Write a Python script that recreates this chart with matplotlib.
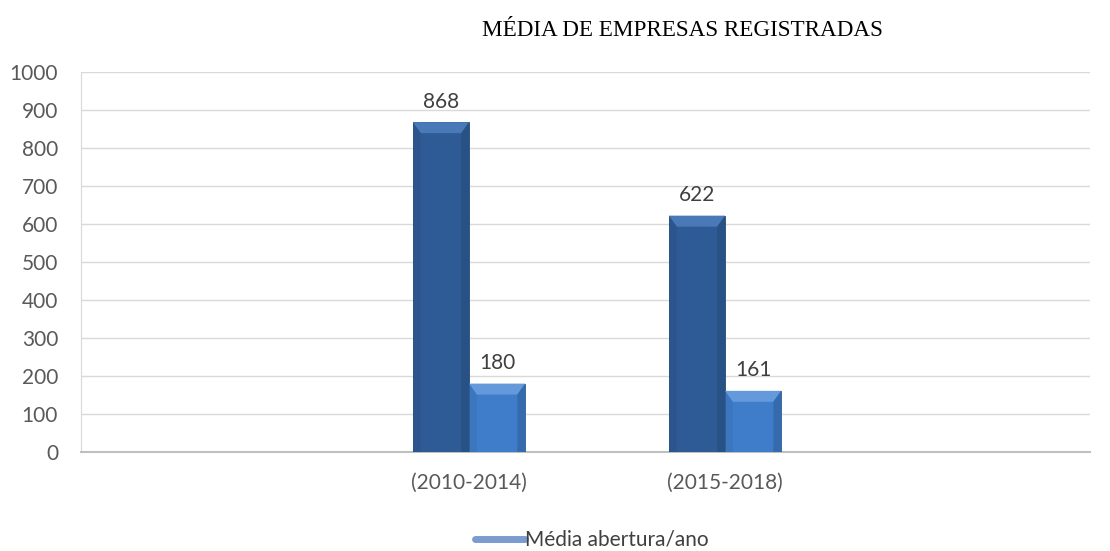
import matplotlib.pyplot as plt
import numpy as np
from matplotlib.patches import Polygon

# dados do grafico
categorias = ['(2010-2014)', '(2015-2018)']
media_abertura = [868, 622]
media_outra = [180, 161]
legenda = 'Média abertura/ano'

plt.rcParams['font.family'] = ['Lato', 'DejaVu Sans']

fig = plt.figure(figsize=(11.10, 5.51), dpi=100)
ax = fig.add_axes([81 / 1110, 1 - 452 / 551, 1009 / 1110, 380 / 551])

x = np.arange(len(categorias))
w = 0.219
cor_escura = '#2e5b95'
cor_clara = '#3f7dca'

b1 = ax.bar(x - w / 2, media_abertura, w, color=cor_escura, edgecolor='#24497a', linewidth=0.6, zorder=3)
b2 = ax.bar(x + w / 2, media_outra, w, color=cor_clara, edgecolor='#2f5f9c', linewidth=0.6, zorder=3)

# efeito de chanfro no topo das barras
def chanfro(barras, cor_topo, cor_lado):
    for p in barras.patches:
        x0, y0 = p.get_x(), p.get_y()
        bw, bh = p.get_width(), p.get_height()
        dx = bw * 0.14
        dy = 11 * 1000 / 380
        topo = Polygon([[x0, y0 + bh], [x0 + bw, y0 + bh], [x0 + bw - dx, y0 + bh - dy], [x0 + dx, y0 + bh - dy]],
                       closed=True, color=cor_topo, zorder=4, lw=0)
        esq = Polygon([[x0, y0], [x0, y0 + bh], [x0 + dx, y0 + bh - dy], [x0 + dx, y0]],
                      closed=True, color=cor_lado, zorder=4, lw=0, alpha=0.2)
        dir = Polygon([[x0 + bw, y0], [x0 + bw, y0 + bh], [x0 + bw - dx, y0 + bh - dy], [x0 + bw - dx, y0]],
                      closed=True, color='#1a355a', zorder=4, lw=0, alpha=0.25)
        ax.add_patch(topo)
        ax.add_patch(esq)
        ax.add_patch(dir)

chanfro(b1, '#4a79b8', '#20406b')
chanfro(b2, '#6499dc', '#2c5a96')

for barras in (b1, b2):
    for p in barras.patches:
        ax.text(p.get_x() + p.get_width() / 2, p.get_height() + 28, f'{int(p.get_height())}',
                ha='center', va='bottom', fontsize=15, color='#404040')

ax.set_xlim((81 - 469) / 256, (1090 - 469) / 256)
ax.set_ylim(0, 1000)
ax.set_yticks(range(0, 1001, 100))
ax.set_xticks(x)
ax.set_xticklabels(categorias)
ax.tick_params(axis='both', length=0, labelsize=15, labelcolor='#595959')
ax.tick_params(axis='x', pad=15)
ax.tick_params(axis='y', pad=16.5)
ax.grid(axis='y', color='#d9d9d9', linewidth=1, zorder=0)
ax.set_axisbelow(True)
for s in ['top', 'right']:
    ax.spines[s].set_visible(False)
ax.spines['left'].set_color('#d9d9d9')
ax.spines['bottom'].set_color('#bfbfbf')
ax.spines['bottom'].set_linewidth(1.5)

fig.text(682 / 1110, 1 - 30 / 551, 'MÉDIA DE EMPRESAS REGISTRADAS', ha='center', va='center',
         fontsize=16.7, family=['Liberation Serif', 'DejaVu Serif'], color='#000000')

h, = ax.plot([], [], color='#7c9ccf', linewidth=5, solid_capstyle='round')
fig.legend([h], [legenda], loc='center', bbox_to_anchor=(592 / 1110, 1 - 540 / 551), frameon=False,
           fontsize=15, handlelength=2.4, handletextpad=0.0, labelcolor='#404040')

fig.savefig('out.png', dpi=100)
